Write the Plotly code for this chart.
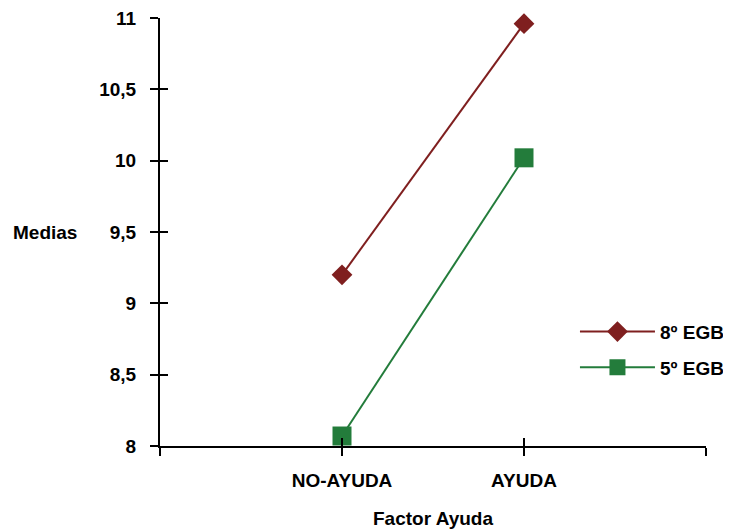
import plotly.graph_objects as go

categories = ["NO-AYUDA", "AYUDA"]
series_names = ["8º EGB", "5º EGB"]
egb8 = [9.2, 10.96]
egb5 = [8.07, 10.02]
y_ticks = [8, 8.5, 9, 9.5, 10, 10.5, 11]

x_pos = [i + 1 for i in range(len(categories))]
red = "#7f1f1f"
green = "#237c3b"
font = "Arial, Liberation Sans, sans-serif"
fs = 19
y_range = [8, 11]

fig = go.Figure()
fig.add_trace(go.Scatter(x=x_pos, y=egb8, name="<b>" + series_names[0] + "</b>", mode="lines+markers",
                         legendgroup="a", cliponaxis=False,
                         line=dict(color=red, width=2),
                         marker=dict(symbol="diamond", size=16, color=red)))
fig.add_trace(go.Scatter(x=x_pos, y=egb5, name="<b>" + series_names[1] + "</b>", mode="lines+markers",
                         legendgroup="b", cliponaxis=False,
                         line=dict(color=green, width=2),
                         marker=dict(symbol="square", size=19, color=green)))

tickvals_x = [0] + x_pos + [len(categories) + 1]
ticktext_x = [""] + ["<b>" + c + "</b>" for c in categories] + [""]
ticktext_y = ["<b>" + f"{v:g}".replace(".", ",") + "</b>" for v in y_ticks]

fig.update_layout(
    width=723, height=521,
    margin=dict(l=152, r=25, t=10, b=83, autoexpand=False),
    plot_bgcolor="white", paper_bgcolor="white",
    separators=",.",
    font=dict(family=font, size=fs, color="black"),
    showlegend=True,
    legend=dict(x=0.76, xanchor="left", y=0.225, yanchor="middle",
                font=dict(family=font, size=fs, color="black"),
                bgcolor="rgba(0,0,0,0)", traceorder="grouped", tracegroupgap=8,
                itemwidth=75),
    xaxis=dict(range=[0, len(categories) + 1], tickvals=tickvals_x, ticktext=ticktext_x,
               showgrid=False, zeroline=False, showline=True, linecolor="black", linewidth=2,
               ticks="outside", ticklen=8, tickwidth=2, tickcolor="black",
               ticklabelstandoff=8, automargin=False, ticklabeloverflow="allow",
               tickfont=dict(family=font, size=fs),
               title=dict(text="<b>Factor Ayuda</b>", standoff=24,
                          font=dict(family=font, size=fs))),
    yaxis=dict(range=y_range, tickvals=y_ticks, ticktext=ticktext_y,
               showgrid=False, zeroline=False, showline=True, linecolor="black", linewidth=2,
               ticks="outside", ticklen=8, tickwidth=2, tickcolor="black",
               ticklabelstandoff=10, automargin=False, ticklabeloverflow="allow",
               tickfont=dict(family=font, size=fs)),
    xaxis2=dict(overlaying="x", range=[0, len(categories) + 1], tickvals=tickvals_x,
                showticklabels=False, showgrid=False, zeroline=False, showline=False,
                ticks="inside", ticklen=8, tickwidth=2, tickcolor="black", side="bottom",
                anchor="y", automargin=False),
    yaxis2=dict(overlaying="y", range=y_range, tickvals=y_ticks,
                showticklabels=False, showgrid=False, zeroline=False, showline=False,
                ticks="inside", ticklen=8, tickwidth=2, tickcolor="black", side="left",
                anchor="x", automargin=False),
)
fig.add_trace(go.Scatter(x=[None], y=[None], xaxis="x2", yaxis="y2", showlegend=False,
                         hoverinfo="skip"))

fig.add_annotation(text="<b>Medias</b>", xref="paper", yref="y", x=-0.210, y=9.5,
                   xanchor="center", yanchor="middle", showarrow=False,
                   font=dict(family=font, size=fs, color="black"))

fig.write_html("out.html")
